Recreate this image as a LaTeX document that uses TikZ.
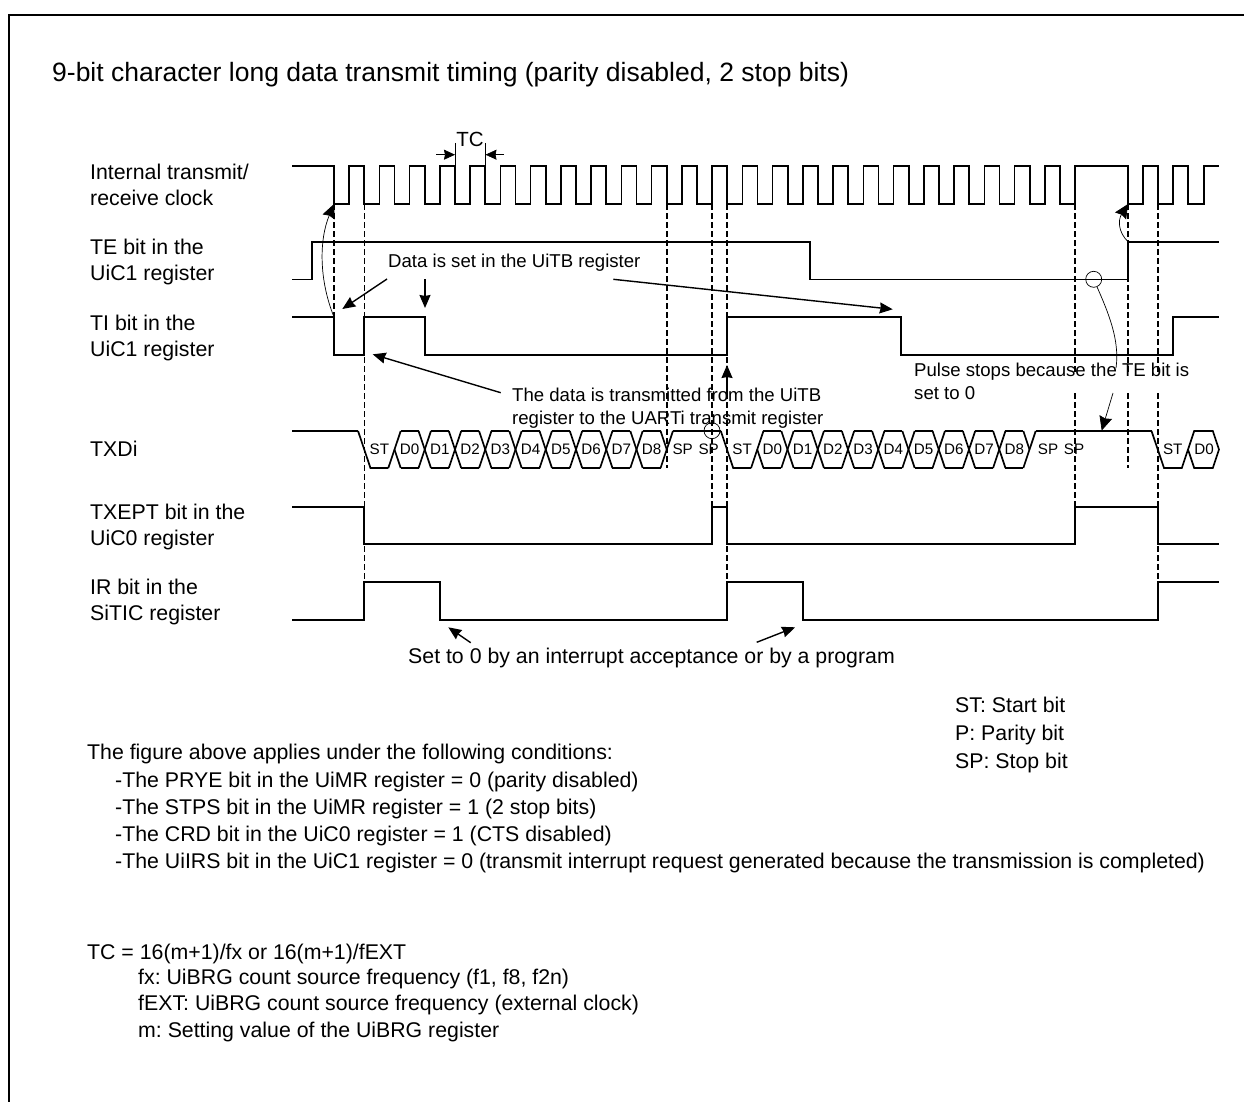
\documentclass[tikz,border=0pt]{standalone}
\usepackage{xcolor}
\usepackage{fontspec}
\setmainfont{Liberation Sans}
\usepackage{tikz}
\usetikzlibrary{
  arrows.meta,
  positioning,
  calc
}
\frenchspacing
\tikzset{
  label text/.style={
    anchor=west,
    inner sep=0pt,
    align=left,
    font=\fontsize{21.3}{26}\selectfont
  },
  title text/.style={
    label text,
    font=\fontsize{26.5}{26}\selectfont
  },
  note text/.style={
    label text,
    font=\fontsize{18.6}{23.3}\selectfont
  },
  bitlabel/.style={
    inner sep=0pt,
    font=\fontsize{15.2}{18}\selectfont
  },
  signal/.style={
    line width=1.7pt,
    line join=miter
  },
  sampling/.style={
    line width=1.5pt,
    dash pattern=on 6pt off 3pt
  },
  pointer/.style={
    -{Stealth[length=13pt,width=11pt,inset=1pt]},
    line width=1.4pt
  },
  bentarrow/.style={
    -{Stealth[length=14pt,width=13pt,inset=1.5pt]},
    line width=0.7pt
  },
  dimension/.style={
    -{Stealth[length=11pt,width=10pt,inset=1pt]},
    line width=0.7pt
  },
  thinline/.style={
    line width=0.7pt
  },
  marker/.style={
    draw,
    circle,
    line width=0.7pt,
    minimum size=16pt,
    inner sep=0pt
  }
}
\newcommand{\txdframe}[2]{
  % one character: start bit, D0 to D8
  \draw[signal] ({#1-36.45},431) -- ({#1-24.05},468) -- ({#1-6.2},468);
  \foreach \j in {0,...,9} {
    \draw[signal] ({#1+30.25*\j-6.2},468) -- ({#1+30.25*\j+6.2},431);
  }
  \foreach \j in {1,...,8} {
    \draw[signal] ({#1+30.25*\j-6.2},431) -- ({#1+30.25*\j+6.2},468);
  }
  \draw[signal] (#1,449.5) -- ({#1+6.2},468);
  \draw[signal] ({#1+272.25-6.2},431) -- ({#1+272.25},449.5);
  \foreach \j in {0,...,8} {
    \draw[signal] ({#1+30.25*\j+6.2},431) -- ({#1+30.25*\j+24.05},431);
    \draw[signal] ({#1+30.25*\j+6.2},468) -- ({#1+30.25*\j+24.05},468);
  }
  \node[bitlabel] (st#2) at ({#1-15.1},449.5) {ST};
  \foreach \j in {0,...,8} {
    \node[bitlabel] (d\j#2) at ({#1+30.25*\j+15.1},449.5) {D\j};
  }
}
\begin{document}
\begin{tikzpicture}[x=1pt,y=-1pt]

  \useasboundingbox (0,0) rectangle (1244,1102);

  % frame
  \draw[line width=2.6pt] (9,1102) -- (9,15) -- (1244,15);

  \node[title text] (title) at (52,75) {
    9-bit character long data transmit timing (parity disabled, 2 stop bits)
  };

  % signal names
  \node[label text] (clockname) at (90,185) {
    Internal transmit/\\
    receive clock
  };
  \node[label text] (tename) at (90,262) {
    TE bit in the\\
    UiC1 register
  };
  \node[label text] (tiname) at (90,338) {
    TI bit in the\\
    UiC1 register
  };
  \node[label text] (txdname) at (90,449) {
    TXDi
  };
  \node[label text] (txeptname) at (90,527) {
    TXEPT bit in the\\
    UiC0 register
  };
  \node[label text] (irname) at (90,602) {
    IR bit in the\\
    SiTIC register
  };

  % clock
  \draw[signal] (292,166) -- (334,166)
  \foreach \k in {0,...,24} {
    -- ({334+30.25*\k},166) -- ({334+30.25*\k},204)
    -- ({349.1+30.25*\k},204) -- ({349.1+30.25*\k},166)
  }
  -- (1128,166) -- (1128,204) -- (1143,204) -- (1143,166)
  -- (1158,166) -- (1158,204) -- (1173,204) -- (1173,166)
  -- (1188,166) -- (1188,204) -- (1204,204) -- (1204,166)
  -- (1219,166);

  % TE, TI, TXEPT, IR
  \draw[signal] (292,279.5) -- (312,279.5) -- (312,241.7) -- (810,241.7)
  -- (810,279.5) -- (1128,279.5) -- (1128,241.7) -- (1219,241.7);
  \draw[signal] (292,317) -- (334,317) -- (334,355) -- (364.3,355)
  -- (364.3,317) -- (425,317) -- (425,355) -- (727,355) -- (727,317)
  -- (901,317) -- (901,355) -- (1173,355) -- (1173,317) -- (1219,317);
  \draw[signal] (292,507) -- (364.3,507) -- (364.3,544) -- (712,544)
  -- (712,507) -- (727,507) -- (727,544) -- (1075,544) -- (1075,507)
  -- (1158,507) -- (1158,544) -- (1219,544);
  \draw[signal] (292,620) -- (364.3,620) -- (364.3,582) -- (440,582)
  -- (440,620) -- (727,620) -- (727,582) -- (803,582) -- (803,620)
  -- (1158,620) -- (1158,582) -- (1219,582);

  % TXDi
  \draw[signal] (292,431) -- (358,431);
  \txdframe{394.5}{a}
  \draw[signal] (672.9,431) -- (720.8,431);
  \node[bitlabel] (spa) at (682.7,449.5) {SP};
  \node[bitlabel] (spb) at (708.7,449.5) {SP};
  \txdframe{757.25}{b}
  \draw[signal] (1035.7,431) -- (1151.5,431);
  \node[bitlabel] (spc) at (1048,449.5) {SP};
  \node[bitlabel] (spd) at (1074,449.5) {SP};
  \draw[signal] (1151.5,431) -- (1164,468) -- (1181.8,468) -- (1194.2,431)
  -- (1212.8,431) -- (1219,449.5) -- (1212.8,468) -- (1194.2,468) -- (1188,449.5);
  \node[bitlabel] (stc) at (1172.7,449.5) {ST};
  \node[bitlabel] (d0c) at (1204,449.5) {D0};

  % sampling lines
  \draw[sampling] (334,204) -- (334,355);
  \draw[sampling] (364.3,204) -- (364.3,582);
  \draw[sampling] (667,204) -- (667,468);
  \draw[sampling] (712,204) -- (712,507);
  \draw[sampling] (727,204) -- (727,582);
  \draw[sampling] (1075,204) -- (1075,373);
  \draw[sampling] (1075,393) -- (1075,507);
  \draw[sampling] (1128,204) -- (1128,373);
  \draw[sampling] (1128,393) -- (1128,468);
  \draw[sampling] (1158,204) -- (1158,373);
  \draw[sampling] (1158,393) -- (1158,582);

  % TC
  \coordinate (tcleftup) at (455,143);
  \coordinate (tcleftdown) at (455,166);
  \coordinate (tcrightup) at (485.5,143);
  \coordinate (tcrightdown) at (485.5,166);
  \coordinate (tcleftin) at (436,154.7);
  \coordinate (tcrightin) at (504,154.7);
  \coordinate (tcleft) at (455,154.7);
  \coordinate (tcright) at (485.5,154.7);
  \draw[thinline] (tcleftup) -- (tcleftdown);
  \draw[thinline] (tcrightup) -- (tcrightdown);
  \draw[dimension] (tcleftin) -- (tcleft);
  \draw[dimension] (tcrightin) -- (tcright);
  \node[
    inner sep=0pt,
    font=\fontsize{20.5}{24}\selectfont
  ] (tc) at (470,139) {
    TC
  };

  % notes
  \node[note text] (setnote) at (388,263) {
    Data is set in the UiTB register
  };
  \node[note text] (movenote) at (512,408) {
    The data is transmitted from the UiTB\\
    register to the UARTi transmit register
  };
  \node[note text] (pulsenote) at (914,381) {
    Pulse stops because the TE bit is\\
    set to 0
  };
  \node[label text] (clearnote) at (408,658) {
    Set to 0 by an interrupt acceptance or by a program
  };

  % arrows from the notes
  \coordinate (setfrom) at (387,279);
  \coordinate (setto) at (342.3,309);
  \coordinate (setdown) at (425,279);
  \coordinate (setdownto) at (425,308);
  \coordinate (setlong) at (613.3,279.3);
  \coordinate (setlongto) at (892.7,309.3);
  \coordinate (movefrom) at (500.7,392.7);
  \coordinate (moveto) at (372.7,354.3);
  \coordinate (moveup) at (727,394);
  \coordinate (moveupto) at (727,365);
  \coordinate (clearleft) at (470.7,642.7);
  \coordinate (clearleftto) at (448.3,627.3);
  \coordinate (clearright) at (756.7,642.3);
  \coordinate (clearrightto) at (795,627.3);
  \draw[pointer] (setfrom) -- (setto);
  \draw[pointer] (setdown) -- (setdownto);
  \draw[pointer] (setlong) -- (setlongto);
  \draw[pointer] (movefrom) -- (moveto);
  \draw[pointer] (moveup) -- (moveupto);
  \draw[pointer] (clearleft) -- (clearleftto);
  \draw[pointer] (clearright) -- (clearrightto);

  % TI and TE start the clock
  \coordinate (tifall) at (334,317);
  \coordinate (clockstart) at (334,204);
  \coordinate (terise) at (1128,241.7);
  \coordinate (clockagain) at (1128,204);
  \draw[bentarrow] (tifall) .. controls (319,280) and (319,240) .. (clockstart);
  \draw[bentarrow] (terise) .. controls (1118,232) and (1118,220) .. (clockagain);

  % TE falling stops the pulses
  \node[marker] (tecircle) at (1093.7,279.3) {};
  \coordinate (pulsebreak) at (1116,368);
  \coordinate (pulsefrom) at (1113,393);
  \coordinate (pulseto) at (1101.7,430.5);
  \draw[thinline] (tecircle) .. controls (1108,312) and (1120,340) .. (pulsebreak);
  \draw[bentarrow] (pulsefrom) -- (pulseto);
  \node[marker] (stopcircle) at (712,430.7) {};

  % legend
  \node[
    label text,
    font=\fontsize{21.3}{27.6}\selectfont
  ] (legend) at (955,735) {
    ST: Start bit\\
    P: Parity bit\\
    SP: Stop bit
  };

  % conditions
  \node[label text] (condhead) at (87,754) {
    The figure above applies under the following conditions:
  };
  \node[
    label text,
    font=\fontsize{21.3}{27}\selectfont
  ] (condlist) at (115,822.5) {
    -The PRYE bit in the UiMR register = 0 (parity disabled)\\
    -The STPS bit in the UiMR register = 1 (2 stop bits)\\
    -The CRD bit in the UiC0 register = 1 (CTS disabled)\\
    -The UiIRS bit in the UiC1 register = 0 (transmit interrupt request generated because the transmission is completed)
  };
  \node[label text] (tcformula) at (87,954) {
    TC = 16(m+1)/fx or 16(m+1)/fEXT
  };
  \node[
    label text,
    font=\fontsize{21.3}{26.5}\selectfont
  ] (tcterms) at (138,1005) {
    fx: UiBRG count source frequency (f1, f8, f2n)\\
    fEXT: UiBRG count source frequency (external clock)\\
    m: Setting value of the UiBRG register
  };

\end{tikzpicture}
\end{document}
